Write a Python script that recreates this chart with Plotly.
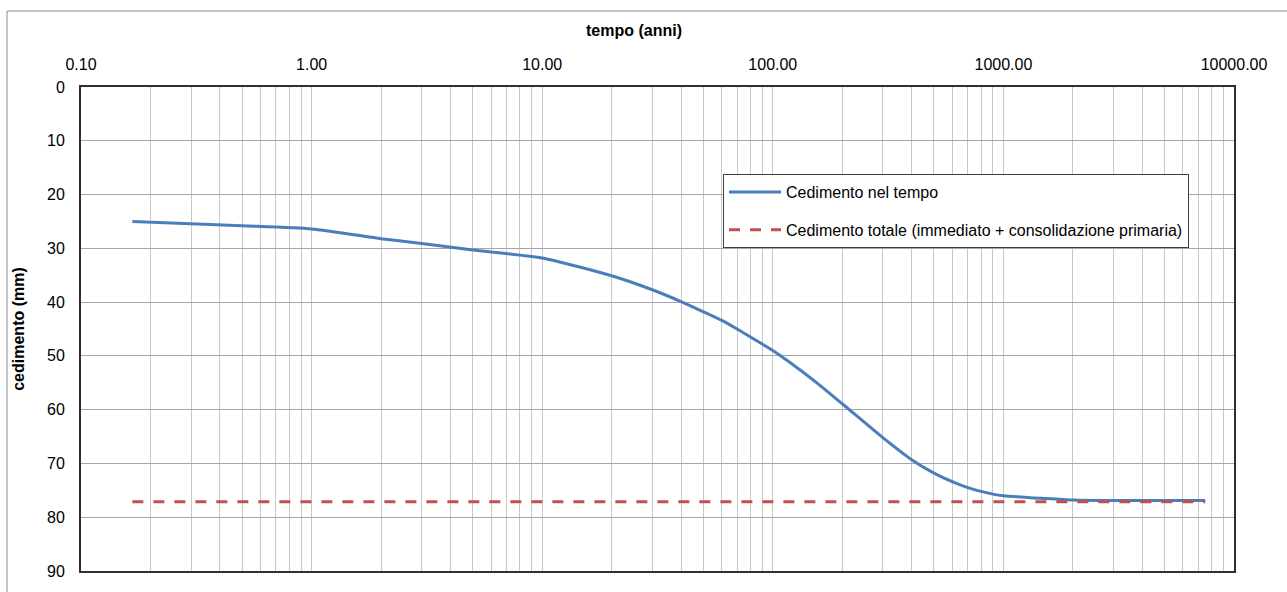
import plotly.graph_objects as go

# ---- data ----
tempo_anni = [0.167, 0.5, 1, 2, 3, 5, 10, 20, 30, 40, 50, 60, 70, 80, 90, 100,
              150, 200, 300, 400, 500, 600, 700, 800, 900, 1000, 1500, 2000,
              3000, 5000, 7500]
cedimento_mm = [25.0, 25.8, 26.4, 28.2, 29.1, 30.3, 31.8, 35.1, 37.7, 39.9, 41.8,
                43.4, 45.0, 46.5, 47.8, 49.0, 54.5, 58.9, 65.2, 69.3, 71.8, 73.4,
                74.5, 75.2, 75.7, 76.0, 76.5, 76.8, 76.9, 76.9, 76.9]
tempo_totale = [0.167, 7500]
cedimento_totale = [77.1, 77.1]

name_blue = "Cedimento nel tempo"
name_red = "Cedimento totale (immediato + consolidazione primaria)"
x_title = "tempo (anni)"
y_title = "cedimento (mm)"

x_decades = [0.1, 1, 10, 100, 1000, 10000]
x_decade_labels = ["0.10", "1.00", "10.00", "100.00", "1000.00", "10000.00"]
y_ticks = [0, 10, 20, 30, 40, 50, 60, 70, 80, 90]

# all log gridline positions (1..9 of each decade), labels only at decades
x_tickvals, x_ticktext = [], []
for i, d in enumerate(x_decades):
    x_tickvals.append(d)
    x_ticktext.append(x_decade_labels[i])
    if d < x_decades[-1]:
        for m in range(2, 10):
            x_tickvals.append(d * m)
            x_ticktext.append("")

FONT = "Liberation Sans, Arial, sans-serif"
W, H = 1287, 592
L, R, T, B = 81, 1287 - 1234, 87, 592 - 571
pw, ph = W - L - R, H - T - B

fig = go.Figure()
fig.add_trace(go.Scatter(x=tempo_anni, y=cedimento_mm, mode="lines", name=name_blue,
                         line=dict(color="#4A7EBB", width=3, shape="spline", smoothing=0.6),
                         legendgroup="a"))
fig.add_trace(go.Scatter(x=tempo_totale, y=cedimento_totale, mode="lines", name=name_red,
                         line=dict(color="#C0504D", width=3, dash="11px,10px"),
                         legendgroup="b"))

# outer chart-area border
fig.add_shape(type="rect", xref="paper", yref="paper",
              x0=(7 - L) / pw, x1=(W + 5 - L) / pw,
              y0=(H - B - (H + 5)) / ph, y1=(H - B - 11) / ph,
              line=dict(color="#8c8c8c", width=1), fillcolor="rgba(0,0,0,0)", layer="below")

# x-axis title (placed as in the reference, slightly left of centre)
fig.add_annotation(text="<b>" + x_title + "</b>", xref="paper", yref="paper",
                   x=(634 - L) / pw, y=(H - B - 30) / ph, xanchor="center", yanchor="middle",
                   showarrow=False, font=dict(family=FONT, size=16, color="#000000"))

fig.update_layout(
    width=W, height=H,
    margin=dict(l=L, r=R, t=T, b=B),
    paper_bgcolor="white", plot_bgcolor="white",
    font=dict(family=FONT, size=16, color="#000000"),
    showlegend=True,
    legend=dict(x=(723 - L) / pw, y=(H - B - 174) / ph, xanchor="left", yanchor="top",
                bgcolor="white", bordercolor="#404040", borderwidth=1,
                traceorder="grouped", tracegroupgap=14, itemwidth=52,
                font=dict(family=FONT, size=16)),
    xaxis=dict(type="log", side="top", range=[-1, 4],
               tickvals=x_tickvals, ticktext=x_ticktext,
               showgrid=True, gridcolor="#c8c8c8", gridwidth=1,
               showline=True, linecolor="#303030", linewidth=2, mirror=True,
               ticks="", ticklabelstandoff=9, zeroline=False),
    yaxis=dict(range=[90, 0], tickvals=y_ticks,
               showgrid=True, gridcolor="#a6a6a6", gridwidth=1,
               showline=True, linecolor="#303030", linewidth=2, mirror=True,
               ticks="", ticklabelstandoff=11, zeroline=False,
               title=dict(text="<b>" + y_title + "</b>", font=dict(size=16), standoff=18)),
)

fig.write_html("out.html")
